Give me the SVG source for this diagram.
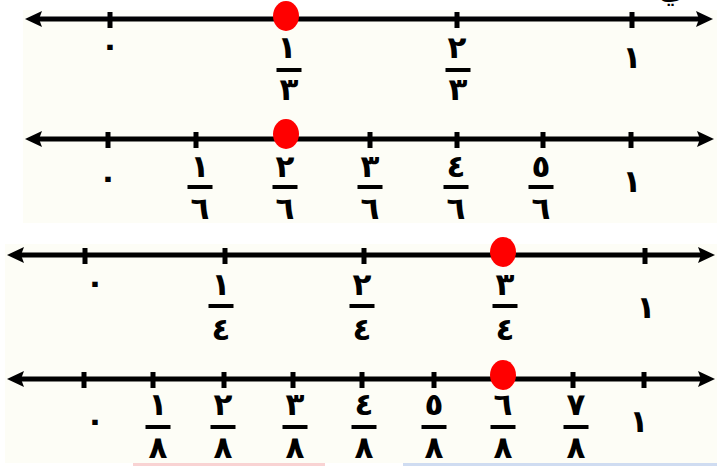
<svg xmlns="http://www.w3.org/2000/svg" width="717" height="466" viewBox="0 0 717 466">
<defs>
<style>
.ax{stroke:#000;stroke-width:5;fill:none}
.dot{fill:#ff0000}
.t{font-family:"DejaVu Sans","Noto Sans",sans-serif;font-weight:bold;font-size:31px;fill:#000;text-anchor:middle}
</style>
<path id="ahL" d="M0,0 L17,-8 L14,0 L17,8 Z"/>
<path id="ahR" d="M0,0 L-17,-8 L-14,0 L-17,8 Z"/>
<rect id="tick" x="-2.5" y="-8" width="5" height="16"/>
<rect id="fbar" x="-12.5" y="-2" width="25" height="4"/>
</defs>
<rect x="0" y="0" width="717" height="466" fill="#ffffff"/>
<rect x="23" y="10" width="694" height="213" fill="#fdfdf6"/>
<rect x="5" y="244" width="712" height="219" fill="#fdfdf6"/>
<rect x="133" y="463" width="192" height="3" fill="#f9d3d3"/>
<rect x="403" y="463" width="314" height="3" fill="#cfdcf1"/>
<text class="t" x="672" y="-2">ي</text>

<g id="connectors">
<line class="ax" x1="32" y1="19" x2="705" y2="19"/>
<line class="ax" x1="32" y1="139" x2="705" y2="139"/>
<line class="ax" x1="14" y1="255" x2="706" y2="255"/>
<line class="ax" x1="14" y1="379" x2="706" y2="379"/>
</g>

<g id="line-thirds">
<use href="#ahL" x="25" y="19"/>
<use href="#ahR" x="713" y="19"/>
<use href="#tick" x="110" y="20"/>
<use href="#tick" x="457" y="20"/>
<use href="#tick" x="632" y="20"/>
<ellipse class="dot" cx="286" cy="16" rx="13" ry="15"/>
<text class="t" x="110" y="56">٠</text>
<text class="t" x="287" y="58">١</text>
<use href="#fbar" x="289" y="70"/>
<text class="t" x="289" y="100">٣</text>
<text class="t" x="457" y="58">٢</text>
<use href="#fbar" x="458" y="70"/>
<text class="t" x="458" y="100">٣</text>
<text class="t" x="632" y="68">١</text>
</g>

<g id="line-sixths">
<use href="#ahL" x="25" y="139"/>
<use href="#ahR" x="714" y="139"/>
<use href="#tick" x="108" y="140"/>
<use href="#tick" x="196" y="140"/>
<use href="#tick" x="370" y="140"/>
<use href="#tick" x="457" y="140"/>
<use href="#tick" x="543" y="140"/>
<use href="#tick" x="631" y="140"/>
<ellipse class="dot" cx="286" cy="134" rx="13" ry="15"/>
<text class="t" x="108" y="188">٠</text>
<text class="t" x="200" y="177">١</text>
<use href="#fbar" x="200" y="187"/>
<text class="t" x="200" y="219">٦</text>
<text class="t" x="285" y="177">٢</text>
<use href="#fbar" x="285" y="187"/>
<text class="t" x="285" y="219">٦</text>
<text class="t" x="370" y="177">٣</text>
<use href="#fbar" x="370" y="187"/>
<text class="t" x="370" y="219">٦</text>
<text class="t" x="456" y="177">٤</text>
<use href="#fbar" x="456" y="187"/>
<text class="t" x="456" y="219">٦</text>
<text class="t" x="541" y="177">٥</text>
<use href="#fbar" x="541" y="187"/>
<text class="t" x="541" y="219">٦</text>
<text class="t" x="632" y="192">١</text>
</g>

<g id="line-quarters">
<use href="#ahL" x="7" y="255"/>
<use href="#ahR" x="715" y="255"/>
<use href="#tick" x="85" y="256"/>
<use href="#tick" x="225" y="256"/>
<use href="#tick" x="364" y="256"/>
<use href="#tick" x="645" y="256"/>
<ellipse class="dot" cx="503" cy="252" rx="13" ry="15"/>
<text class="t" x="95" y="293">٠</text>
<text class="t" x="221" y="295">١</text>
<use href="#fbar" x="221" y="306"/>
<text class="t" x="221" y="340">٤</text>
<text class="t" x="362" y="295">٢</text>
<use href="#fbar" x="362" y="306"/>
<text class="t" x="362" y="340">٤</text>
<text class="t" x="505" y="295">٣</text>
<use href="#fbar" x="505" y="306"/>
<text class="t" x="505" y="340">٤</text>
<text class="t" x="646" y="318">١</text>
</g>

<g id="line-eighths">
<use href="#ahL" x="7" y="379"/>
<use href="#ahR" x="715" y="379"/>
<use href="#tick" x="84" y="380"/>
<use href="#tick" x="153" y="380"/>
<use href="#tick" x="224" y="380"/>
<use href="#tick" x="293" y="380"/>
<use href="#tick" x="362" y="380"/>
<use href="#tick" x="434" y="380"/>
<use href="#tick" x="573" y="380"/>
<use href="#tick" x="644" y="380"/>
<ellipse class="dot" cx="503" cy="375" rx="13" ry="15"/>
<text class="t" x="95" y="431">٠</text>
<text class="t" x="158" y="415">١</text>
<use href="#fbar" x="158" y="427"/>
<text class="t" x="158" y="458">٨</text>
<text class="t" x="223" y="415">٢</text>
<use href="#fbar" x="223" y="427"/>
<text class="t" x="223" y="458">٨</text>
<text class="t" x="295" y="415">٣</text>
<use href="#fbar" x="295" y="427"/>
<text class="t" x="295" y="458">٨</text>
<text class="t" x="364" y="415">٤</text>
<use href="#fbar" x="364" y="427"/>
<text class="t" x="364" y="458">٨</text>
<text class="t" x="434" y="415">٥</text>
<use href="#fbar" x="434" y="427"/>
<text class="t" x="434" y="458">٨</text>
<text class="t" x="503" y="415">٦</text>
<use href="#fbar" x="503" y="427"/>
<text class="t" x="503" y="458">٨</text>
<text class="t" x="576" y="415">٧</text>
<use href="#fbar" x="576" y="427"/>
<text class="t" x="576" y="458">٨</text>
<text class="t" x="639" y="432">١</text>
</g>
</svg>
